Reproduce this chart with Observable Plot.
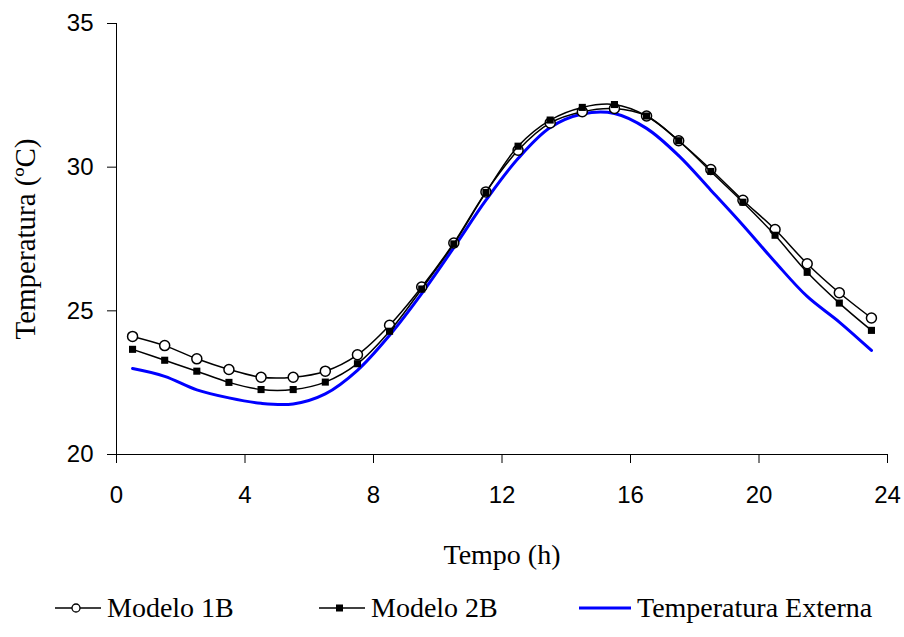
<!DOCTYPE html>
<html>
<head>
<meta charset="utf-8">
<script src="https://cdn.jsdelivr.net/npm/d3@7"></script>
<script src="https://cdn.jsdelivr.net/npm/@observablehq/plot@0.6"></script>
<style>
  body { margin: 0; background: #fff; }
  #chart svg { display: block; }
  #legend { position: relative; height: 62px; font-family: "Liberation Serif", "Times New Roman", serif; font-size: 28px; color: #000; }
  .item { position: absolute; top: 16px; display: flex; align-items: center; height: 34px; }
  .item span { margin-left: 6px; }
</style>
</head>
<body>
<div id="chart"></div>
<div id="legend"></div>
<script>
const hours = [0.5,1.5,2.5,3.5,4.5,5.5,6.5,7.5,8.5,9.5,10.5,11.5,12.5,13.5,14.5,15.5,16.5,17.5,18.5,19.5,20.5,21.5,22.5,23.5];
const modelo1B = [24.11,23.79,23.33,22.96,22.69,22.69,22.90,23.47,24.50,25.83,27.36,29.14,30.59,31.54,31.93,32.04,31.78,30.92,29.92,28.85,27.83,26.64,25.63,24.75];
const modelo2B = [23.66,23.28,22.90,22.51,22.26,22.26,22.52,23.16,24.29,25.76,27.33,29.12,30.73,31.64,32.08,32.18,31.78,30.92,29.85,28.78,27.63,26.34,25.27,24.32];
const externa  = [22.99,22.72,22.25,21.97,21.78,21.76,22.11,22.93,24.15,25.60,27.20,28.85,30.30,31.38,31.85,31.87,31.35,30.40,29.20,27.98,26.70,25.50,24.61,23.62];
const xTicks = [0,4,8,12,16,20,24];
const yTicks = [20,25,30,35];
const seriesNames = ["Modelo 1B","Modelo 2B","Temperatura Externa"];
const xLabel = "Tempo (h)";
const yLabel = "Temperatura (ºC)";

const d1 = hours.map((h,i)=>({h, v: modelo1B[i]}));
const d2 = hours.map((h,i)=>({h, v: modelo2B[i]}));
const d3e = hours.map((h,i)=>({h, v: externa[i]}));

const sans = "'Liberation Sans', Arial, sans-serif";
const serif = "'Liberation Serif', 'Times New Roman', serif";

const chart = Plot.plot({
  width: 904,
  height: 575,
  marginLeft: 116,
  marginRight: 17,
  marginTop: 23,
  marginBottom: 121,
  style: {background: "#fff", color: "#000"},
  x: {domain: [0, 24]},
  y: {domain: [20, 35]},
  marks: [
    Plot.axisX({ticks: xTicks, tickSize: 9, tickPadding: 22, fontSize: 24, fontFamily: sans, label: null, stroke: "#000"}),
    Plot.axisX({ticks: xTicks, tickSize: 0, tickFormat: () => "", label: xLabel, labelAnchor: "center", labelArrow: "none", labelOffset: 109, fontSize: 28, fontFamily: serif}),
    Plot.axisY({ticks: yTicks, tickSize: 9, tickPadding: 14, fontSize: 24, fontFamily: sans, label: null, stroke: "#000"}),
    Plot.axisY({ticks: yTicks, tickSize: 0, tickFormat: () => "", label: yLabel, labelAnchor: "center", labelArrow: "none", labelOffset: 102, fontSize: 29, fontFamily: serif}),
    Plot.ruleX([0], {stroke: "#000", strokeWidth: 1}),
    Plot.ruleY([20], {stroke: "#000", strokeWidth: 1}),
    Plot.line(d3e, {x: "h", y: "v", stroke: "#0000ff", strokeWidth: 3, curve: "catmull-rom"}),
    Plot.line(d1, {x: "h", y: "v", stroke: "#000", strokeWidth: 1.5, curve: "catmull-rom"}),
    Plot.dot(d1, {x: "h", y: "v", r: 5, fill: "#fff", stroke: "#000", strokeWidth: 1.5}),
    Plot.line(d2, {x: "h", y: "v", stroke: "#000", strokeWidth: 1.5, curve: "catmull-rom"}),
    Plot.dot(d2, {x: "h", y: "v", symbol: "square", r: 4, fill: "#000", stroke: "none"})
  ]
});
document.getElementById("chart").appendChild(chart);

// legend
const legend = document.getElementById("legend");
const swatches = [
  {left: 55, w: 46, svg: '<line x1="0" y1="17" x2="46" y2="17" stroke="#000" stroke-width="1.5"/><circle cx="21" cy="17" r="4" fill="#fff" stroke="#000" stroke-width="1.3"/>'},
  {left: 319, w: 46, svg: '<line x1="0" y1="17" x2="46" y2="17" stroke="#000" stroke-width="1.5"/><rect x="17" y="13.5" width="7" height="7" fill="#000"/>'},
  {left: 579, w: 52, svg: '<line x1="0" y1="17" x2="52" y2="17" stroke="#0000ff" stroke-width="3"/>'}
];
seriesNames.forEach((name, i) => {
  const s = swatches[i];
  const div = document.createElement("div");
  div.className = "item";
  div.style.left = s.left + "px";
  div.innerHTML = `<svg width="${s.w}" height="34">${s.svg}</svg><span>${name}</span>`;
  legend.appendChild(div);
});
</script>
</body>
</html>
